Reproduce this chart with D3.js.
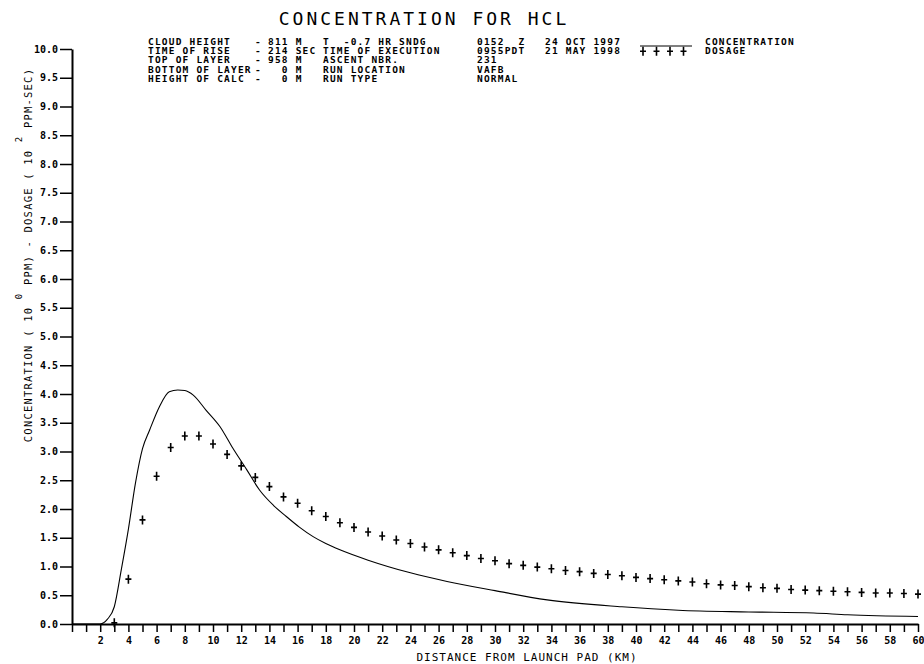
<!DOCTYPE html>
<html>
<head>
<meta charset="utf-8">
<script src="https://cdn.jsdelivr.net/npm/d3@7"></script>
<style>
  body { margin: 0; background: #fff; }
  text { font-family: "DejaVu Sans Mono", monospace; fill: #000; }
  .hdr text { font-size: 9.5px; font-weight: bold; white-space: pre; letter-spacing: 1.2px; }
  .tick text { font-size: 10px; font-weight: bold; }
</style>
</head>
<body>
<svg width="924" height="664"></svg>
<script>
// header block
var infoLabels = ["CLOUD HEIGHT", "TIME OF RISE", "TOP OF LAYER", "BOTTOM OF LAYER", "HEIGHT OF CALC"];
var infoValues = ["811 M", "214 SEC", "958 M", "  0 M", "  0 M"];
var runLabels = ["T  -0.7 HR SNDG", "TIME OF EXECUTION", "ASCENT NBR.", "RUN LOCATION", "RUN TYPE"];
var runValues = ["0152  Z", "0955PDT", "231", "VAFB", "NORMAL"];
var runDates = ["24 OCT 1997", "21 MAY 1998", "", "", ""];

// concentration (10^0 ppm), solid line
var concKm = [0, 1, 2, 2.5, 3, 3.5, 4, 4.5, 5, 5.5, 6.2, 6.9, 7.5, 8, 8.6, 9.5, 10.5, 11.4, 12.4, 13.3, 14.3, 15.2, 16.1, 17.1, 18, 19,
  21, 24, 26.6, 30, 33.7, 39, 43, 48, 52.6, 55, 60];
var concVal = [0, 0, 0, 0.08, 0.3, 0.95, 1.65, 2.45, 3.05, 3.37, 3.78, 4.04, 4.07, 4.06, 3.98, 3.72, 3.43, 3.06, 2.68, 2.33, 2.06, 1.87, 1.69, 1.52, 1.4, 1.29,
  1.11, 0.89, 0.74, 0.58, 0.42, 0.3, 0.24, 0.21, 0.19, 0.16, 0.13];

// dosage (10^2 ppm-sec), plus markers at km 3..60
var doseKm = d3.range(3, 61);
var doseVal = [0.02, 0.78, 1.81, 2.57, 3.07, 3.27, 3.27, 3.13, 2.95, 2.75, 2.55, 2.39, 2.21, 2.1, 1.97, 1.87, 1.76,
  1.68, 1.6, 1.53, 1.46, 1.4, 1.34, 1.29, 1.24, 1.19, 1.14, 1.1, 1.05, 1.02, 0.99, 0.96, 0.93, 0.91, 0.88, 0.86,
  0.84, 0.81, 0.79, 0.77, 0.75, 0.73, 0.7, 0.68, 0.67, 0.65, 0.63, 0.62, 0.6, 0.59, 0.58, 0.57, 0.56, 0.55, 0.54, 0.54, 0.53, 0.52];

var yTicks = d3.range(0, 10.01, 0.5);
var xTicks = d3.range(0, 61);

var svg = d3.select("svg");

var x = d3.scaleLinear().domain([0, 60]).range([72, 918]);
var y = d3.scaleLinear().domain([0, 10]).range([624, 49]);

svg.append("text")
    .attr("x", 424).attr("y", 25)
    .attr("text-anchor", "middle")
    .style("font-size", "18px")
    .style("letter-spacing", "3px")
    .text("CONCENTRATION FOR HCL");

// header rows
var rowY = function(i) { return 45 + i * 9.2; };
var hdr = svg.append("g").attr("class", "hdr");
infoLabels.forEach(function(t, i) {
  hdr.append("text").attr("x", 148).attr("y", rowY(i)).text(t);
  hdr.append("text").attr("x", 255).attr("y", rowY(i)).text("-");
  hdr.append("text").attr("x", 268).attr("y", rowY(i)).text(infoValues[i]);
  hdr.append("text").attr("x", 323).attr("y", rowY(i)).text(runLabels[i]);
  hdr.append("text").attr("x", 477).attr("y", rowY(i)).text(runValues[i]);
  hdr.append("text").attr("x", 545).attr("y", rowY(i)).text(runDates[i]);
});

// legend
svg.append("line")
    .attr("x1", 640).attr("x2", 692).attr("y1", rowY(0) + 1).attr("y2", rowY(0) + 1)
    .attr("stroke", "#000").attr("stroke-width", 1);
hdr.append("text").attr("x", 705).attr("y", rowY(0)).text("CONCENTRATION");
hdr.append("text").attr("x", 705).attr("y", rowY(1)).text("DOSAGE");
var plus = "M-3,0H3M0,-4.5V4.5";
[0, 1, 2, 3].forEach(function(k) {
  svg.append("path")
      .attr("d", plus)
      .attr("transform", "translate(" + (643 + k * 13.5) + "," + (rowY(1) - 3) + ")")
      .attr("stroke", "#000").attr("stroke-width", 1.6).attr("fill", "none");
});

// axes
var yAxis = d3.axisLeft(y)
    .tickValues(yTicks)
    .tickSize(12)
    .tickSizeOuter(0)
    .tickPadding(2)
    .tickFormat(d3.format(".1f"));
svg.append("g").attr("transform", "translate(72,0)").call(yAxis);

var xAxis = d3.axisBottom(x)
    .tickValues(xTicks)
    .tickSize(8)
    .tickSizeOuter(0)
    .tickPadding(5)
    .tickFormat(function(d) { return d % 2 === 0 && d > 0 ? d : ""; });
svg.append("g").attr("transform", "translate(0,624)").call(xAxis);

svg.selectAll(".domain").attr("stroke-width", 2);
svg.selectAll(".tick line").attr("stroke-width", 1.5);

svg.append("text")
    .attr("x", 527).attr("y", 661)
    .attr("text-anchor", "middle")
    .style("font-size", "11px")
    .style("letter-spacing", "1px")
    .text("DISTANCE FROM LAUNCH PAD (KM)");

var ylab = svg.append("text")
    .attr("transform", "translate(32,255) rotate(-90)")
    .attr("text-anchor", "middle")
    .style("font-size", "10.5px")
    .style("letter-spacing", "1.2px");
ylab.append("tspan").text("CONCENTRATION ( 10 ");
ylab.append("tspan").attr("dy", -10).style("font-size", "9px").text("0");
ylab.append("tspan").attr("dy", 10).text(" PPM) - DOSAGE ( 10 ");
ylab.append("tspan").attr("dy", -10).style("font-size", "9px").text("2");
ylab.append("tspan").attr("dy", 10).text(" PPM-SEC)");

// concentration line
var line = d3.line()
    .x(function(d, i) { return x(concKm[i]); })
    .y(function(d) { return y(d); })
    .curve(d3.curveMonotoneX);
svg.append("path")
    .attr("d", line(concVal))
    .attr("fill", "none")
    .attr("stroke", "#000")
    .attr("stroke-width", 1.1);

// dosage markers
svg.selectAll(".dose")
    .data(doseVal)
    .enter().append("path")
    .attr("class", "dose")
    .attr("d", plus)
    .attr("transform", function(d, i) { return "translate(" + x(doseKm[i]) + "," + y(d) + ")"; })
    .attr("stroke", "#000")
    .attr("stroke-width", 1.6)
    .attr("fill", "none");
</script>
</body>
</html>
